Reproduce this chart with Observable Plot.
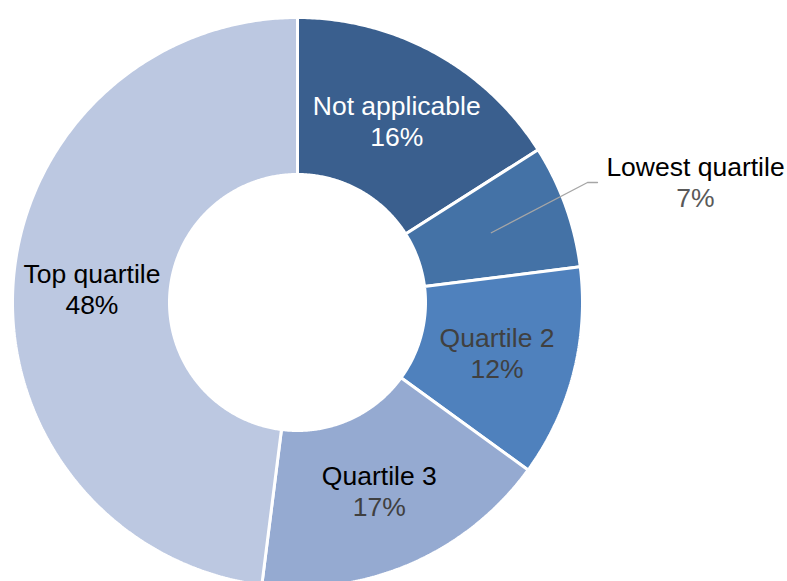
<!DOCTYPE html>
<html>
<head>
<meta charset="utf-8">
<script src="https://cdn.jsdelivr.net/npm/d3@7"></script>
<script src="https://cdn.jsdelivr.net/npm/@observablehq/plot@0.6"></script>
<style>
  html, body { margin: 0; padding: 0; background: #fff; }
  #chart { width: 787px; height: 581px; }
  svg text { font-family: "Liberation Sans", Arial, sans-serif; }
</style>
</head>
<body>
<div id="chart"></div>
<script>
// ---- data ----
const categories = ["Not applicable", "Lowest quartile", "Quartile 2", "Quartile 3", "Top quartile"];
const shares = [16, 7, 12, 17, 48];
const pctLabels = ["16%", "7%", "12%", "17%", "48%"];

// ---- styles ----
const sliceColors = ["#3A5F8E", "#4472A6", "#4F81BD", "#95AAD1", "#BCC8E1"];
const nameColors = ["#FFFFFF", "#000000", "#404040", "#000000", "#000000"];
const pctColors = ["#FFFFFF", "#595959", "#404040", "#404040", "#000000"];
const outerR = 285, innerR = 128, labelR = 206;
const fontSize = 26.5, lineGap = 31;

const total = d3.sum(shares);
let cum = 0;
const slices = categories.map((name, i) => {
  const a0 = cum / total * 2 * Math.PI;
  cum += shares[i];
  const a1 = cum / total * 2 * Math.PI;
  return {name, i, a0, a1, mid: (a0 + a1) / 2};
});

function ring(s) {
  const pts = [];
  const n = Math.max(8, Math.ceil((s.a1 - s.a0) / (Math.PI / 360)));
  for (let k = 0; k <= n; k++) {
    const a = s.a0 + (s.a1 - s.a0) * k / n;
    pts.push({x: outerR * Math.sin(a), y: outerR * Math.cos(a)});
  }
  for (let k = n; k >= 0; k--) {
    const a = s.a0 + (s.a1 - s.a0) * k / n;
    pts.push({x: innerR * Math.sin(a), y: innerR * Math.cos(a)});
  }
  pts.push(pts[0]);
  return pts;
}

const inside = slices.filter(s => s.name !== "Lowest quartile");
const callout = slices.find(s => s.name === "Lowest quartile");

const labelPos = inside.map(s => ({
  x: labelR * Math.sin(s.mid),
  y: labelR * Math.cos(s.mid),
  name: s.name, pct: pctLabels[s.i], nameFill: nameColors[s.i], pctFill: pctColors[s.i]
}));

// callout leader for the small slice
const leaderStart = {x: labelR * Math.sin(callout.mid), y: labelR * Math.cos(callout.mid)};
const elbow = {x: 290, y: 120};
const leaderEnd = {x: 300, y: 120};
const calloutLabel = {x: 398, y: 119};

const marks = [];
slices.forEach(s => {
  marks.push(Plot.line(ring(s), {x: "x", y: "y", fill: sliceColors[s.i], stroke: "#FFFFFF", strokeWidth: 3, strokeLinejoin: "miter"}));
});
marks.push(Plot.line([leaderStart, elbow, leaderEnd], {x: "x", y: "y", stroke: "#A6A6A6", strokeWidth: 1.3}));
marks.push(Plot.text(labelPos, {x: "x", y: "y", text: "name", fill: d => d.nameFill, dy: -lineGap / 2, fontSize, textAnchor: "middle", lineAnchor: "middle"}));
marks.push(Plot.text(labelPos, {x: "x", y: "y", text: "pct", fill: d => d.pctFill, dy: lineGap / 2, fontSize, textAnchor: "middle", lineAnchor: "middle"}));
marks.push(Plot.text([calloutLabel], {x: "x", y: "y", text: () => callout.name, fill: nameColors[callout.i], dy: -lineGap / 2, fontSize, textAnchor: "middle", lineAnchor: "middle"}));
marks.push(Plot.text([calloutLabel], {x: "x", y: "y", text: () => pctLabels[callout.i], fill: pctColors[callout.i], dy: lineGap / 2, fontSize, textAnchor: "middle", lineAnchor: "middle"}));

const chart = Plot.plot({
  width: 787,
  height: 581,
  margin: 0,
  style: {background: "#FFFFFF", fontFamily: "'Liberation Sans', Arial, sans-serif"},
  x: {domain: [-297, 490], axis: null},
  y: {domain: [-279, 302], axis: null},
  marks
});
document.getElementById("chart").appendChild(chart);
</script>
</body>
</html>
